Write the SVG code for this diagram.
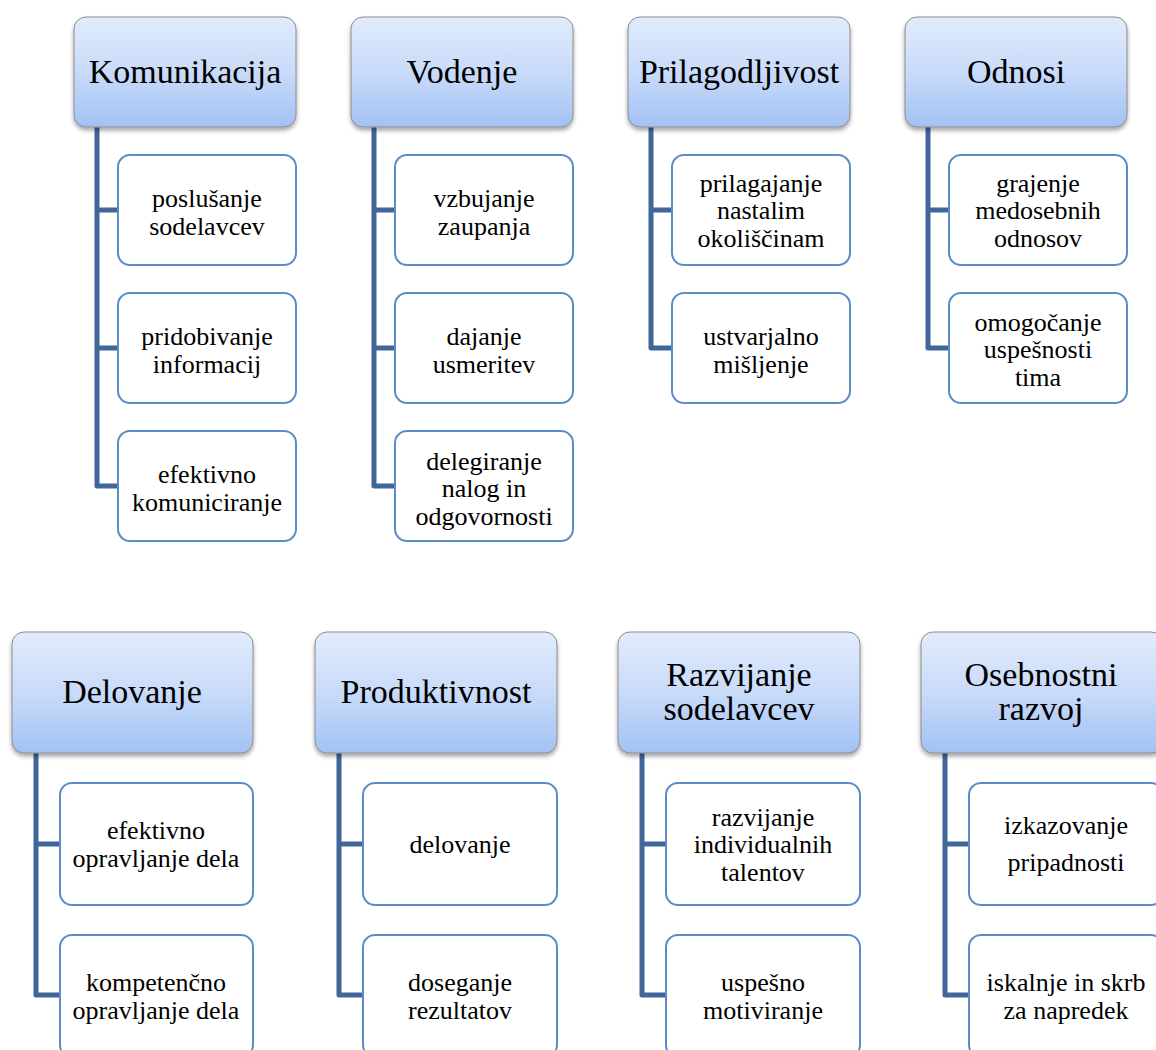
<svg xmlns="http://www.w3.org/2000/svg" width="1156" height="1050" viewBox="0 0 1156 1050">
<style>
.hd{fill:url(#hg);stroke:#8c8c8c;stroke-width:1;filter:url(#sh)}
.ch{fill:#fff;stroke:#5b8cc8;stroke-width:2}
text{font-family:'Liberation Serif','Times New Roman',Times,'DejaVu Serif',serif;fill:#000;text-anchor:middle}
.ht{font-size:34px}
.ct{font-size:26px}
.cn{fill:none;stroke:#41679a;stroke-width:5;stroke-linejoin:round}
</style>
<defs>
<linearGradient id="hg" x1="0" y1="0" x2="0" y2="1">
<stop offset="0" stop-color="#e1ebfc"/>
<stop offset="0.5" stop-color="#c9dbf9"/>
<stop offset="1" stop-color="#a2c1f4"/>
</linearGradient>
<filter id="sh" x="-10%" y="-10%" width="120%" height="130%">
<feDropShadow dx="0" dy="3" stdDeviation="2" flood-color="#000" flood-opacity="0.35"/>
</filter>
</defs>
<rect width="1156" height="1050" fill="#fff"/>
<g id="connectors">
<path class="cn" d="M97,120 V486 H118 M97,210 H118 M97,348 H118"/>
<path class="cn" d="M374,120 V486 H395 M374,210 H395 M374,348 H395"/>
<path class="cn" d="M651,120 V348 H672 M651,210 H672"/>
<path class="cn" d="M928,120 V348 H949 M928,210 H949"/>
<path class="cn" d="M36,745 V995 H60 M36,844 H60"/>
<path class="cn" d="M339,745 V995 H363 M339,844 H363"/>
<path class="cn" d="M642,745 V995 H666 M642,844 H666"/>
<path class="cn" d="M945,745 V995 H969 M945,844 H969"/>
</g>
<g id="komunikacija"><rect class="hd" x="74" y="17" width="222" height="110" rx="12"/><text class="ht" x="185" y="83" font-family="Liberation Serif, serif">Komunikacija</text></g>
<g id="vodenje"><rect class="hd" x="351" y="17" width="222" height="110" rx="12"/><text class="ht" x="462" y="83">Vodenje</text></g>
<g id="prilagodljivost"><rect class="hd" x="628" y="17" width="222" height="110" rx="12"/><text class="ht" x="739" y="83">Prilagodljivost</text></g>
<g id="odnosi"><rect class="hd" x="905" y="17" width="222" height="110" rx="12"/><text class="ht" x="1016" y="83">Odnosi</text></g>

<g id="k1"><rect class="ch" x="118" y="155" width="178" height="110" rx="12"/><text class="ct" x="207" y="207">poslušanje</text><text class="ct" x="207" y="235">sodelavcev</text></g>
<g id="k2"><rect class="ch" x="118" y="293" width="178" height="110" rx="12"/><text class="ct" x="207" y="345">pridobivanje</text><text class="ct" x="207" y="373">informacij</text></g>
<g id="k3"><rect class="ch" x="118" y="431" width="178" height="110" rx="12"/><text class="ct" x="207" y="483">efektivno</text><text class="ct" x="207" y="511">komuniciranje</text></g>

<g id="v1"><rect class="ch" x="395" y="155" width="178" height="110" rx="12"/><text class="ct" x="484" y="207">vzbujanje</text><text class="ct" x="484" y="235">zaupanja</text></g>
<g id="v2"><rect class="ch" x="395" y="293" width="178" height="110" rx="12"/><text class="ct" x="484" y="345">dajanje</text><text class="ct" x="484" y="373">usmeritev</text></g>
<g id="v3"><rect class="ch" x="395" y="431" width="178" height="110" rx="12"/><text class="ct" x="484" y="470">delegiranje</text><text class="ct" x="484" y="497">nalog in</text><text class="ct" x="484" y="525">odgovornosti</text></g>

<g id="p1"><rect class="ch" x="672" y="155" width="178" height="110" rx="12"/><text class="ct" x="761" y="192">prilagajanje</text><text class="ct" x="761" y="219">nastalim</text><text class="ct" x="761" y="247">okoliščinam</text></g>
<g id="p2"><rect class="ch" x="672" y="293" width="178" height="110" rx="12"/><text class="ct" x="761" y="345">ustvarjalno</text><text class="ct" x="761" y="373">mišljenje</text></g>

<g id="o1"><rect class="ch" x="949" y="155" width="178" height="110" rx="12"/><text class="ct" x="1038" y="192">grajenje</text><text class="ct" x="1038" y="219">medosebnih</text><text class="ct" x="1038" y="247">odnosov</text></g>
<g id="o2"><rect class="ch" x="949" y="293" width="178" height="110" rx="12"/><text class="ct" x="1038" y="331">omogočanje</text><text class="ct" x="1038" y="358">uspešnosti</text><text class="ct" x="1038" y="386">tima</text></g>

<g id="delovanje"><rect class="hd" x="12" y="632" width="241" height="121" rx="12"/><text class="ht" x="132" y="703">Delovanje</text></g>
<g id="produktivnost"><rect class="hd" x="315" y="632" width="242" height="121" rx="12"/><text class="ht" x="436" y="703">Produktivnost</text></g>
<g id="razvijanje"><rect class="hd" x="618" y="632" width="242" height="121" rx="12"/><text class="ht" x="739" y="686">Razvijanje</text><text class="ht" x="739" y="720">sodelavcev</text></g>
<g id="osebnostni"><rect class="hd" x="921" y="632" width="242" height="121" rx="12"/><text class="ht" x="1041" y="686">Osebnostni</text><text class="ht" x="1041" y="720">razvoj</text></g>

<g id="d1"><rect class="ch" x="60" y="783" width="193" height="122" rx="12"/><text class="ct" x="156" y="839">efektivno</text><text class="ct" x="156" y="867">opravljanje dela</text></g>
<g id="d2"><rect class="ch" x="60" y="935" width="193" height="122" rx="12"/><text class="ct" x="156" y="991">kompetenčno</text><text class="ct" x="156" y="1019">opravljanje dela</text></g>

<g id="pr1"><rect class="ch" x="363" y="783" width="194" height="122" rx="12"/><text class="ct" x="460" y="853">delovanje</text></g>
<g id="pr2"><rect class="ch" x="363" y="935" width="194" height="122" rx="12"/><text class="ct" x="460" y="991">doseganje</text><text class="ct" x="460" y="1019">rezultatov</text></g>

<g id="r1"><rect class="ch" x="666" y="783" width="194" height="122" rx="12"/><text class="ct" x="763" y="826">razvijanje</text><text class="ct" x="763" y="853">individualnih</text><text class="ct" x="763" y="881">talentov</text></g>
<g id="r2"><rect class="ch" x="666" y="935" width="194" height="122" rx="12"/><text class="ct" x="763" y="991">uspešno</text><text class="ct" x="763" y="1019">motiviranje</text></g>

<g id="os1"><rect class="ch" x="969" y="783" width="194" height="122" rx="12"/><text class="ct" x="1066" y="834">izkazovanje</text><text class="ct" x="1066" y="871">pripadnosti</text></g>
<g id="os2"><rect class="ch" x="969" y="935" width="194" height="122" rx="12"/><text class="ct" x="1066" y="991">iskalnje in skrb</text><text class="ct" x="1066" y="1019">za napredek</text></g>
</svg>
